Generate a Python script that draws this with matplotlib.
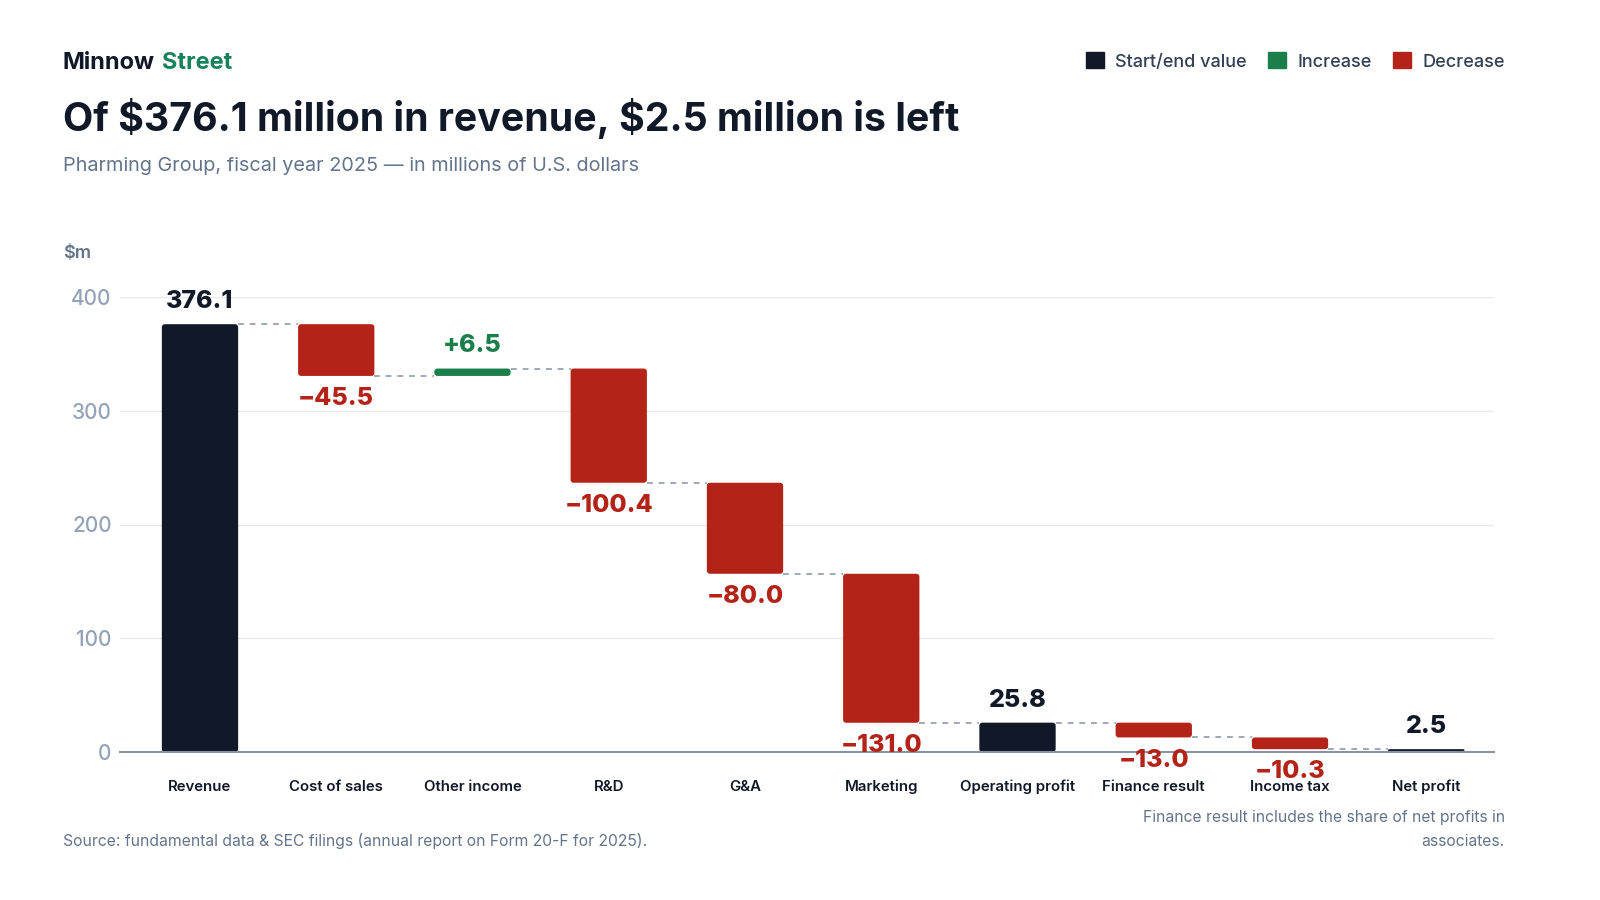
import numpy as np
import matplotlib.pyplot as plt
from matplotlib.patches import Patch, FancyBboxPatch

plt.rcParams['font.family'] = ['Inter', 'DejaVu Sans']
plt.rcParams['text.parse_math'] = False

# data (millions USD)
categories = ["Revenue", "Cost of sales", "Other income", "R&D", "G&A",
              "Marketing", "Operating profit", "Finance result", "Income tax", "Net profit"]
values = [376.1, -45.5, 6.5, -100.4, -80.0, -131.0, 25.8, -13.0, -10.3, 2.5]
kinds = ["total", "delta", "delta", "delta", "delta", "delta", "total", "delta", "delta", "total"]
y_ticks = [0, 100, 200, 300, 400]

DARK = "#111827"
GREEN = "#1b7f4c"
RED = "#b42318"
GRID = "#e8eaee"
MUTED = "#64748b"
TICK = "#94a3b8"

# running levels for the floating bars
bottoms, heights, colors, ends = [], [], [], []
level = 0.0
for v, k in zip(values, kinds):
    if k == "total":
        bottoms.append(0)
        heights.append(v)
        colors.append(DARK)
        level = v
    else:
        bottoms.append(level + min(0, v))
        heights.append(abs(v))
        colors.append(GREEN if v > 0 else RED)
        level += v
    ends.append(level)

fig = plt.figure(figsize=(16, 9), dpi=100)
ax = fig.add_axes([0.075, 1 - 752 / 900, 0.934 - 0.075, (752 - 297) / 900])
ax.set_xlim(-0.587, 9.5)
ax.set_ylim(0, 400)

x = np.arange(len(categories))
w = 0.56
bars = ax.bar(x, heights, bottom=bottoms, width=w, color=colors, zorder=3)

# swap the plain rectangles for slightly rounded ones
x_per_px = 10.087 / 1375
y_per_x = (400 / 455) / x_per_px
for r in bars:
    r.set_visible(False)
    h_x = r.get_height() / y_per_x
    rs = min(3 * x_per_px, h_x / 2.2)
    ax.add_patch(FancyBboxPatch((r.get_x(), r.get_y()), r.get_width(), r.get_height(),
                                boxstyle=f"round,pad=0,rounding_size={rs}",
                                mutation_aspect=y_per_x, fc=r.get_facecolor(),
                                ec="none", zorder=3))

# dashed connectors
for i in range(len(x) - 1):
    ax.plot([x[i] + w / 2, x[i + 1] - w / 2], [ends[i], ends[i]],
            color="#a0a8b8", lw=1.4, ls=(0, (3, 3)), zorder=2)

# value labels
for i, (v, k) in enumerate(zip(values, kinds)):
    if k == "total":
        ax.annotate(f"{v:.1f}", (x[i], v), xytext=(0, 8), textcoords="offset points",
                    ha="center", va="bottom", fontsize=18, fontweight="heavy",
                    color=DARK, zorder=5, annotation_clip=False)
    elif v > 0:
        ax.annotate(f"+{v:.1f}", (x[i], bottoms[i] + heights[i]), xytext=(0, 8),
                    textcoords="offset points", ha="center", va="bottom", fontsize=18,
                    fontweight="heavy", color=GREEN, zorder=5, annotation_clip=False)
    else:
        ax.annotate(f"\u2212{abs(v):.1f}", (x[i], bottoms[i]), xytext=(0, -8),
                    textcoords="offset points", ha="center", va="top", fontsize=18,
                    fontweight="heavy", color=RED, zorder=5, annotation_clip=False)

ax.set_yticks(y_ticks)
ax.set_yticklabels([str(t) for t in y_ticks], fontweight="medium")
ax.set_xticks(x)
ax.set_xticklabels(categories, fontsize=10.8, fontweight="semibold", color=DARK, va="baseline")
ax.tick_params(axis="x", length=0, pad=28)
ax.tick_params(axis="y", length=0, pad=6, labelsize=15, labelcolor=TICK)
ax.grid(axis="y", color=GRID, lw=1, zorder=0)
for s in ["top", "right", "left"]:
    ax.spines[s].set_visible(False)
ax.spines["bottom"].set_color("#8a93a6")
ax.spines["bottom"].set_linewidth(1.5)
ax.spines["bottom"].set_zorder(4)

# header
brand = fig.text(63 / 1600, 1 - 74 / 900, "Minnow", fontsize=17, fontweight="bold",
                 color=DARK, va="bottom")
plt.annotate("Street", xy=(1, 0), xycoords=brand, xytext=(5, 0),
             textcoords="offset points", fontsize=17, fontweight="bold",
             color="#16825a", va="bottom", ha="left", annotation_clip=False)
fig.text(63 / 1600, 1 - 131 / 900, "Of $376.1 million in revenue, $2.5 million is left",
         fontsize=28.3, fontweight="bold", color=DARK)
fig.text(63 / 1600, 1 - 171 / 900, "Pharming Group, fiscal year 2025 \u2014 in millions of U.S. dollars",
         fontsize=14.3, color=MUTED)
fig.text(63 / 1600, 1 - 258 / 900, "$m", fontsize=13, fontweight="semibold", color=MUTED)

handles = [Patch(color=DARK), Patch(color=GREEN), Patch(color=RED)]
leg = fig.legend(handles, ["Start/end value", "Increase", "Decrease"], ncol=3,
                 loc="upper right", bbox_to_anchor=(1521 / 1600, 1 - 36 / 900),
                 frameon=False, fontsize=13, labelcolor="#334155",
                 handlelength=1.0, handleheight=1.0, handletextpad=0.6, columnspacing=1.2)
for t in leg.get_texts():
    t.set_fontweight("medium")

# footer
fig.text(63 / 1600, 1 - 846 / 900,
         "Source: fundamental data & SEC filings (annual report on Form 20-F for 2025).",
         fontsize=11.3, color=MUTED)
fig.text(1505 / 1600, 1 - 846 / 900,
         "Finance result includes the share of net profits in\nassociates.",
         fontsize=11.3, color=MUTED, ha="right", linespacing=1.75)

fig.savefig("out.png", dpi=100, facecolor="white")
